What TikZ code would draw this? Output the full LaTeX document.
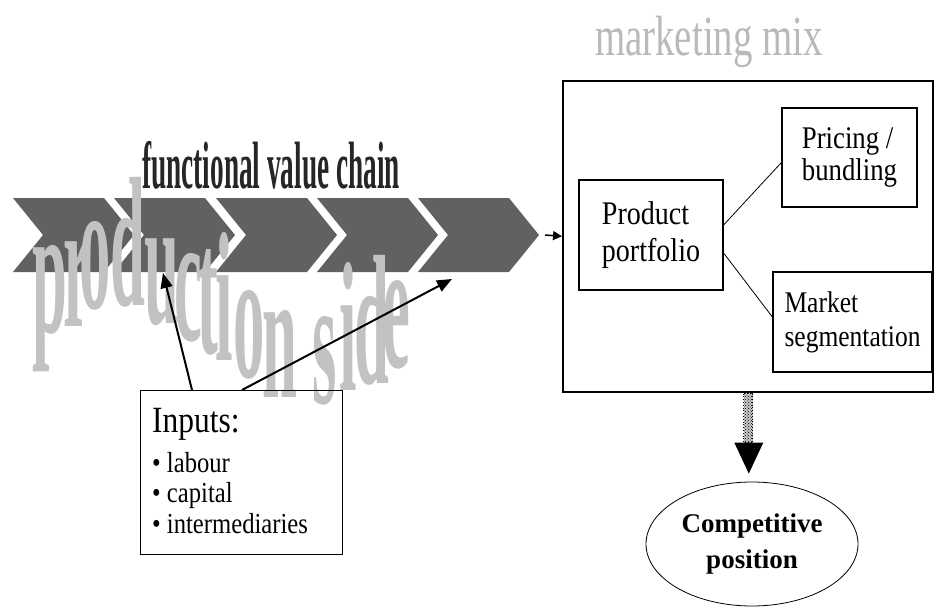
\documentclass[tikz,border=0pt]{standalone}
\usepackage{fontspec}
\setmainfont{Liberation Serif}
\newfontfamily\cond[FakeStretch=0.85]{Liberation Serif}
\usetikzlibrary{arrows.meta,calc,shapes.geometric,patterns}
\begin{document}
\begin{tikzpicture}[x=1pt,y=-1pt,
  chev/.style={fill=black!62,draw=none},
  box/.style={draw,rectangle,line width=1.2pt,inner sep=0pt},
  plet/.style={anchor=base,inner sep=0pt,text=gray!48,font=\bfseries\fontsize{66}{66}\selectfont},
  conn/.style={line width=0.8pt},
  inarrow/.style={line width=2pt,-{Triangle[length=15pt,width=12pt]}},
  txt/.style={anchor=base west,inner sep=0pt}]
\useasboundingbox (0,0) rectangle (934,608);
% value chain chevrons
\foreach \x in {13,114,216,317,418}
  \fill[chev] (\x,198) -- ++(91,0) -- ++(30,37) -- ++(-30,37) -- ++(-91,0) -- ++(30,-37) -- cycle;
\coordinate (chaintip) at (539,235);
% production side
\foreach \l/\cx/\b in {p/50/332,r/77/326,o/95/308,d/128/305,u/162/323,c/188/340,t/208/353,i/224/360,o/249/377,n/280/397,s/325/403,i/348/390,d/372/383,e/396/367}
  \node[plet] at (\cx,\b) {\scalebox{0.95}[2.8]{\l}};
% functional value chain
\node[anchor=base west,inner sep=0pt,text=black!85] (fvc) at (142,188)
  {\scalebox{0.44}[1.08]{\fontsize{62}{62}\selectfont\bfseries functional value chain}};
% marketing mix
\node[anchor=base,inner sep=0pt,text=gray!55] (mm) at (709,55)
  {\scalebox{0.72}[1.05]{\fontsize{54}{54}\selectfont marketing mix}};
% main box
\node[box,line width=1.6pt,minimum width=370pt,minimum height=311pt,anchor=north west] (mix) at (562,80) {};
\node[box,minimum width=144pt,minimum height=110pt,align=left,font=\cond\fontsize{33}{37}\selectfont] (prod) at (651,235) {Product\\portfolio};
\node[box,minimum width=135pt,minimum height=99pt,align=left,font=\cond\fontsize{31.5}{32}\selectfont] (price) at (849.5,157.5) {Pricing /\\bundling};
\node[box,minimum width=159pt,minimum height=100pt,align=left,font=\cond\fontsize{30}{34}\selectfont] (market) at (852.5,322) {Market\\segmentation};
\draw[conn] ($(prod.east)+(0,-10)$) -- ($(price.west)+(0,5)$);
\draw[conn] ($(prod.east)+(0,18)$) -- ($(market.west)+(0,-5)$);
\draw[line width=1.5pt,-{Triangle[length=9pt,width=9pt]}] ($(chaintip)+(6,0)$) -- (mix.west);
% arrow to competitive position
\fill[gray!45] ($(mix.south)+(-4,1)$) rectangle ($(mix.south)+(5,50)$);
\fill[pattern=crosshatch dots] ($(mix.south)+(-4,1)$) rectangle ($(mix.south)+(5,50)$);
\draw[dotted,line width=0.8pt] ($(mix.south)+(-4,1)$) rectangle ($(mix.south)+(5,50)$);
\fill[black] ($(mix.south)+(-13.5,50)$) -- ++(29,0) -- ($(mix.south)+(1,81)$) -- cycle;
\node[ellipse,draw,line width=0.8pt,minimum width=212pt,minimum height=124pt,inner sep=0pt,align=center,font=\bfseries\fontsize{27}{36}\selectfont] (comp) at (752,544) {Competitive\\position};
% inputs
\node[box,minimum width=202pt,minimum height=164pt,anchor=north west] (inputs) at (140,390) {};
\node[txt,font=\cond\fontsize{37}{37}\selectfont] (intitle) at (152,432) {Inputs:};
\node[txt,font=\cond\fontsize{29}{29}\selectfont] (in1) at (152,472) {\textbullet\ labour};
\node[txt,font=\cond\fontsize{29}{29}\selectfont] (in2) at (152,502) {\textbullet\ capital};
\node[txt,font=\cond\fontsize{29}{29}\selectfont] (in3) at (152,533) {\textbullet\ intermediaries};
\coordinate (t1) at (163,273);
\coordinate (t2) at (452,279);
\draw[inarrow] ($(inputs.north west)+(52,0)$) -- (t1);
\draw[inarrow] ($(inputs.north west)+(102,0)$) -- (t2);
\end{tikzpicture}
\end{document}
